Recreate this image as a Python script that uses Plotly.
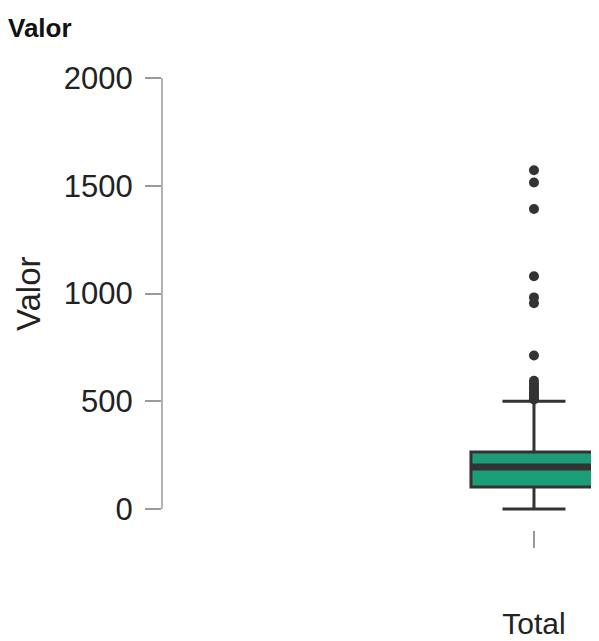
import plotly.graph_objects as go

# Data
category = ["Total"]
q1 = [102]
median = [195]
q3 = [264]
lower_fence = [0]
upper_fence = [500]
outliers = [508, 518, 528, 540, 552, 565, 580, 595, 712, 955, 982, 1080, 1392, 1515, 1572]
y_ticks = [0, 500, 1000, 1500, 2000]

pos = 0
box_w = 1.0
dark = "#333333"
axis_gray = "#9a9a9a"
font_fam = "Liberation Sans, Arial, sans-serif"

fig = go.Figure()
fig.add_trace(go.Box(
    x=[pos], q1=q1, median=median, q3=q3,
    lowerfence=lower_fence, upperfence=upper_fence,
    width=box_w, whiskerwidth=0.5,
    fillcolor="#1b9e77", line=dict(color=dark, width=3),
    boxpoints=False, showlegend=False, hoverinfo="skip",
))
fig.add_trace(go.Scatter(
    x=[pos - box_w / 2, pos + box_w / 2], y=[median[0], median[0]],
    mode="lines", line=dict(color=dark, width=7), showlegend=False,
    hoverinfo="skip",
))
fig.add_trace(go.Scatter(
    x=[pos] * len(outliers), y=outliers, mode="markers",
    marker=dict(color=dark, size=10), showlegend=False, cliponaxis=False,
))

fig.add_shape(type="line", xref="paper", x0=0, x1=0, yref="y",
              y0=y_ticks[0], y1=y_ticks[-1],
              line=dict(color=axis_gray, width=1.5))

fig.add_annotation(text="Valor", textangle=-90, showarrow=False,
                   xref="paper", x=0, xanchor="center", xshift=-134,
                   yref="paper", y=0.522, yanchor="middle",
                   font=dict(size=33, color="#222222", family=font_fam))

fig.update_layout(
    width=599, height=641,
    margin=dict(l=154, r=8, t=70, b=119, autoexpand=False),
    plot_bgcolor="white", paper_bgcolor="white",
    font=dict(family=font_fam, color="#222222"),
    title=dict(text="<b>Valor</b>", xref="container", yref="container",
               x=0, xanchor="left", y=1 - 11 / 641, yanchor="top",
               font=dict(size=26, family=font_fam, color="#111111")),
    xaxis=dict(range=[-2.952, 0.516], tickvals=[pos], ticktext=category,
               showgrid=False, zeroline=False, showline=False, automargin=False,
               ticks="outside", ticklen=17, tickwidth=1.5, tickcolor=axis_gray,
               tickfont=dict(size=30, color="#222222"), ticklabelstandoff=50),
    yaxis=dict(range=[-97.4, 2000], tickvals=y_ticks,
               showgrid=False, zeroline=False, showline=False, automargin=False,
               ticks="outside", ticklen=16, tickwidth=1.5, tickcolor=axis_gray,
               tickfont=dict(size=31, color="#222222"), ticklabelstandoff=6),
)

fig.write_html("out.html")
